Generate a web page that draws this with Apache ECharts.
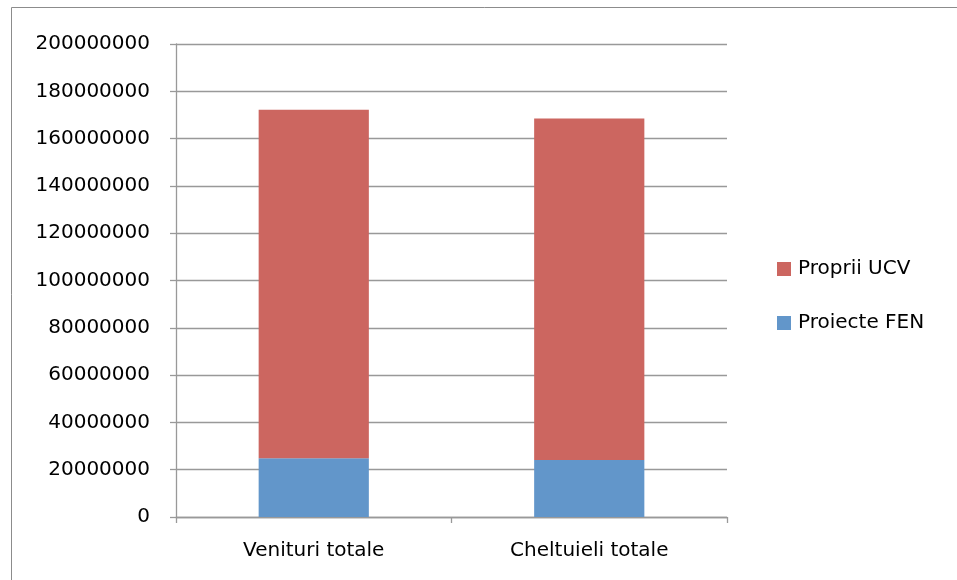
<!DOCTYPE html>
<html>
<head>
<meta charset="utf-8">
<script src="https://cdn.jsdelivr.net/npm/echarts@6/dist/echarts.min.js"></script>
<style>
html,body{margin:0;padding:0;background:#fff;}
#chart{width:957px;height:580px;}
</style>
</head>
<body>
<div id="chart"></div>
<script>
var categories = ['Venituri totale', 'Cheltuieli totale'];
var proiecteFEN = [24800000, 24100000];
var propriiUCV = [147400000, 144400000];
var legendNames = ['Proprii UCV', 'Proiecte FEN'];
var yMin = 0, yMax = 200000000, yStep = 20000000;

var font = 'DejaVu Sans';
var fs = 20;
var chart = echarts.init(document.getElementById('chart'));
chart.setOption({
  animation: false,
  backgroundColor: '#ffffff',
  graphic: [{
    type: 'polyline',
    shape: { points: [[11.5, 585], [11.5, 7.5], [960, 7.5]] },
    style: { stroke: '#8c8c8c', lineWidth: 1, fill: null },
    silent: true
  }],
  grid: { left: 176, right: 230, top: 44, bottom: 63 },
  legend: {
    orient: 'vertical',
    left: 777,
    top: 258,
    padding: 0,
    itemWidth: 14,
    itemHeight: 14,
    itemGap: 32,
    icon: 'rect',
    data: legendNames,
    textStyle: { fontFamily: font, fontSize: fs, color: '#000', lineHeight: 22, padding: [0, 0, 0, 2] }
  },
  xAxis: {
    type: 'category',
    data: categories,
    axisLine: { lineStyle: { color: '#999', width: 1.3 } },
    axisTick: { show: true, length: 6, lineStyle: { color: '#999', width: 1.3 }, alignWithLabel: false },
    axisLabel: { fontFamily: font, fontSize: fs, color: '#000', margin: 24 },
    splitLine: { show: false }
  },
  yAxis: {
    type: 'value',
    min: yMin, max: yMax, interval: yStep,
    axisLine: { show: true, lineStyle: { color: '#999', width: 1.3 } },
    axisTick: { show: true, length: 6, lineStyle: { color: '#999', width: 1.3 } },
    axisLabel: { fontFamily: font, fontSize: fs, color: '#000', margin: 26, formatter: function (v) { return String(v); } },
    splitLine: { show: true, lineStyle: { color: '#999', width: 1.3 } }
  },
  series: [
    {
      name: 'Proiecte FEN', type: 'bar', stack: 'total', data: proiecteFEN,
      barWidth: '40%', itemStyle: { color: '#6296CA' }
    },
    {
      name: 'Proprii UCV', type: 'bar', stack: 'total', data: propriiUCV,
      barWidth: '40%', itemStyle: { color: '#CC6660' }
    }
  ]
});
</script>
</body>
</html>
